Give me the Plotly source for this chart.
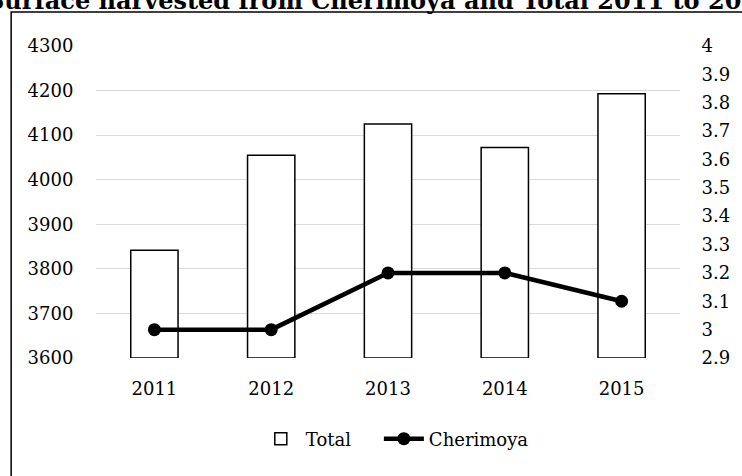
import plotly.graph_objects as go

years = ["2011", "2012", "2013", "2014", "2015"]
total = [3842, 4055, 4125, 4072, 4193]
cherimoya = [3.0, 3.0, 3.2, 3.2, 3.1]
left_ticks = [3600, 3700, 3800, 3900, 4000, 4100, 4200, 4300]
right_ticks = [2.9, 3.0, 3.1, 3.2, 3.3, 3.4, 3.5, 3.6, 3.7, 3.8, 3.9, 4.0]
right_labels = ["2.9", "3", "3.1", "3.2", "3.3", "3.4", "3.5", "3.6", "3.7", "3.8", "3.9", "4"]
title_text = "Surface harvested from Cherimoya and Total 2011 to 2015"

FONT = "DejaVu Serif"
FS = 18
W, H = 742, 476
L, R, T, B = 96, 54, 46, 118
pw, ph = W - L - R, H - T - B

fig = go.Figure()
fig.add_trace(go.Bar(
    x=years, y=[v - 3600 for v in total], base=3600, name="Total" + "\u00a0" * 4,
    marker=dict(color="white", line=dict(color="black", width=1.5)),
    yaxis="y",
))
fig.add_trace(go.Scatter(
    x=years, y=cherimoya, name="Cherimoya", mode="lines+markers",
    line=dict(color="black", width=4.5),
    marker=dict(color="black", size=13),
    yaxis="y2",
))

fig.update_layout(
    width=W, height=H,
    margin=dict(l=L, r=R, t=T, b=B),
    paper_bgcolor="white", plot_bgcolor="white",
    font=dict(family=FONT, size=FS, color="black"),
    bargap=0.595,
    showlegend=True,
    legend=dict(orientation="h", x=(258 - L) / pw, xanchor="left", y=-(439 - T - ph) / ph, yanchor="middle",
                font=dict(family=FONT, size=FS), itemwidth=40, traceorder="normal"),
    xaxis=dict(type="category", showgrid=False, showline=False, zeroline=False,
               ticks="outside", ticklen=14, tickcolor="rgba(0,0,0,0)",
               tickfont=dict(family=FONT, size=FS)),
    yaxis=dict(range=[3600, 4300], tickmode="array", tickvals=left_ticks,
               ticktext=[str(v) for v in left_ticks],
               showgrid=True, gridcolor="#d9d9d9", gridwidth=1.3, zeroline=False,
               showline=False, ticks="outside", ticklen=18, tickcolor="rgba(0,0,0,0)",
               tickfont=dict(family=FONT, size=FS)),
    yaxis2=dict(range=[2.9, 4.0], overlaying="y", side="right", tickmode="array",
                tickvals=right_ticks, ticktext=right_labels, showgrid=False,
                zeroline=False, showline=False, ticks="outside", ticklen=17,
                tickcolor="rgba(0,0,0,0)", tickfont=dict(family=FONT, size=FS)),
    shapes=[dict(type="rect", xref="paper", yref="paper",
                 x0=(10 - L) / pw, x1=(W + 40 - L) / pw,
                 y0=-(H + 40 - T - ph) / ph, y1=1 + (T - 12) / ph,
                 line=dict(color="black", width=1.5), fillcolor="rgba(0,0,0,0)", layer="below")],
    annotations=[dict(text="<b>" + title_text + "</b>", xref="paper", yref="paper",
                      x=(385 - L) / pw, y=1 + (T - 8) / ph, xanchor="center", yanchor="bottom",
                      yshift=-9, showarrow=False,
                      font=dict(family=FONT, size=24, color="black"))],
)

fig.write_html("out.html", config={"displayModeBar": False})
with open("out.html", encoding="utf-8") as f:
    html = f.read()
html = html.replace("<body>", '<body style="margin:0;overflow:hidden">', 1)
with open("out.html", "w", encoding="utf-8") as f:
    f.write(html)
